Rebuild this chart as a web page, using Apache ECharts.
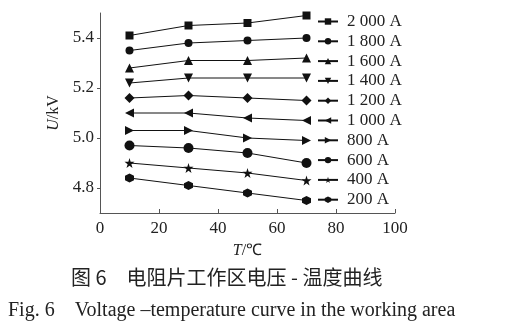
<!DOCTYPE html>
<html>
<head>
<meta charset="utf-8">
<script src="https://cdn.jsdelivr.net/npm/echarts@6/dist/echarts.min.js"></script>
<style>
  html, body { margin: 0; padding: 0; background: #fff; }
  #box { width: 506px; height: 327px; }
</style>
</head>
<body>
<div id="box"></div>
<script>
// 温度 T/℃
var temps = [10, 30, 50, 70];
var currents = ['2 000 A', '1 800 A', '1 600 A', '1 400 A', '1 200 A', '1 000 A', '800 A', '600 A', '400 A', '200 A'];
// 电压 U/kV
var u2000 = [5.41, 5.45, 5.46, 5.49];
var u1800 = [5.35, 5.38, 5.39, 5.40];
var u1600 = [5.28, 5.31, 5.31, 5.32];
var u1400 = [5.22, 5.24, 5.24, 5.24];
var u1200 = [5.16, 5.17, 5.16, 5.15];
var u1000 = [5.10, 5.10, 5.08, 5.07];
var u800 = [5.03, 5.03, 5.00, 4.99];
var u600 = [4.97, 4.96, 4.94, 4.90];
var u400 = [4.90, 4.88, 4.86, 4.83];
var u200 = [4.84, 4.81, 4.78, 4.75];
var yTicks = [4.8, 5.0, 5.2, 5.4];

var star = 'path://M50,0 L61,35 L98,35 L68,57 L79,91 L50,70 L21,91 L32,57 L2,35 L39,35 Z';
var hexagon = 'path://M50,0 L93,25 L93,75 L50,100 L7,75 L7,25 Z';
var marks = [
  { symbol: 'rect', size: 8, rot: 0 },
  { symbol: 'circle', size: 8, rot: 0 },
  { symbol: 'triangle', size: 9, rot: 0 },
  { symbol: 'triangle', size: 9, rot: 180 },
  { symbol: 'diamond', size: 10, rot: 0 },
  { symbol: 'triangle', size: 9, rot: 90 },
  { symbol: 'triangle', size: 9, rot: -90 },
  { symbol: 'circle', size: 10, rot: 0 },
  { symbol: star, size: 10, rot: 0 },
  { symbol: hexagon, size: 9, rot: 0 }
];
var values = [u2000, u1800, u1600, u1400, u1200, u1000, u800, u600, u400, u200];

var font = 'Liberation Serif';
var series = values.map(function (v, i) {
  return {
    name: currents[i],
    type: 'line',
    data: temps.map(function (t, j) { return [t, v[j]]; }),
    symbol: marks[i].symbol,
    symbolSize: marks[i].size,
    symbolRotate: marks[i].rot,
    showAllSymbol: true,
    lineStyle: { color: '#111', width: 1 },
    itemStyle: { color: '#111' },
    animation: false
  };
});

var myChart = echarts.init(document.getElementById('box'));
var option = {
  backgroundColor: '#fff',
  title: [
    {
      text: '图 6　电阻片工作区电压 - 温度曲线',
      left: 66, top: 262,
      textStyle: { fontFamily: 'Noto Sans CJK SC', fontSize: 20, fontWeight: 'normal', color: '#222' }
    },
    {
      text: 'Fig. 6　Voltage –temperature curve in the working area',
      left: 3, top: 296,
      textStyle: { fontFamily: font, fontSize: 20, fontWeight: 'normal', color: '#222' }
    }
  ],
  legend: {
    orient: 'vertical',
    left: 312, top: 8,
    itemWidth: 20, itemHeight: 8, itemGap: 2.8,
    data: currents,
    textStyle: { fontFamily: font, fontSize: 17, color: '#222', padding: [0, 0, 0, 4] }
  },
  grid: { left: 100, right: 111, top: 13, bottom: 114 },
  xAxis: {
    type: 'value',
    min: 0, max: 100, interval: 20,
    name: '{i|T}/℃',
    nameLocation: 'middle',
    nameGap: 30,
    nameTextStyle: {
      fontFamily: font, fontSize: 16, color: '#222',
      rich: { i: { fontFamily: font, fontStyle: 'italic', fontSize: 16, color: '#222' } }
    },
    axisLine: { lineStyle: { color: '#555', width: 1 } },
    axisTick: { inside: true, length: 4, lineStyle: { color: '#555' } },
    axisLabel: { fontFamily: font, fontSize: 17, color: '#222', margin: 7 },
    splitLine: { show: false }
  },
  yAxis: {
    type: 'value',
    min: 4.7, max: 5.5,
    name: '{i|U}/kV',
    nameLocation: 'middle',
    nameGap: 34,
    nameTextStyle: {
      fontFamily: font, fontSize: 16, color: '#222',
      rich: { i: { fontFamily: font, fontStyle: 'italic', fontSize: 16, color: '#222' } }
    },
    axisLine: { show: true, lineStyle: { color: '#555', width: 1 } },
    axisTick: { show: true, length: 3, customValues: yTicks, lineStyle: { color: '#555' } },
    axisLabel: {
      fontFamily: font, fontSize: 17, color: '#222', margin: 6,
      customValues: yTicks,
      formatter: function (v) { return v.toFixed(1); }
    },
    splitLine: { show: false }
  },
  series: series
};
myChart.setOption(option);
</script>
</body>
</html>
